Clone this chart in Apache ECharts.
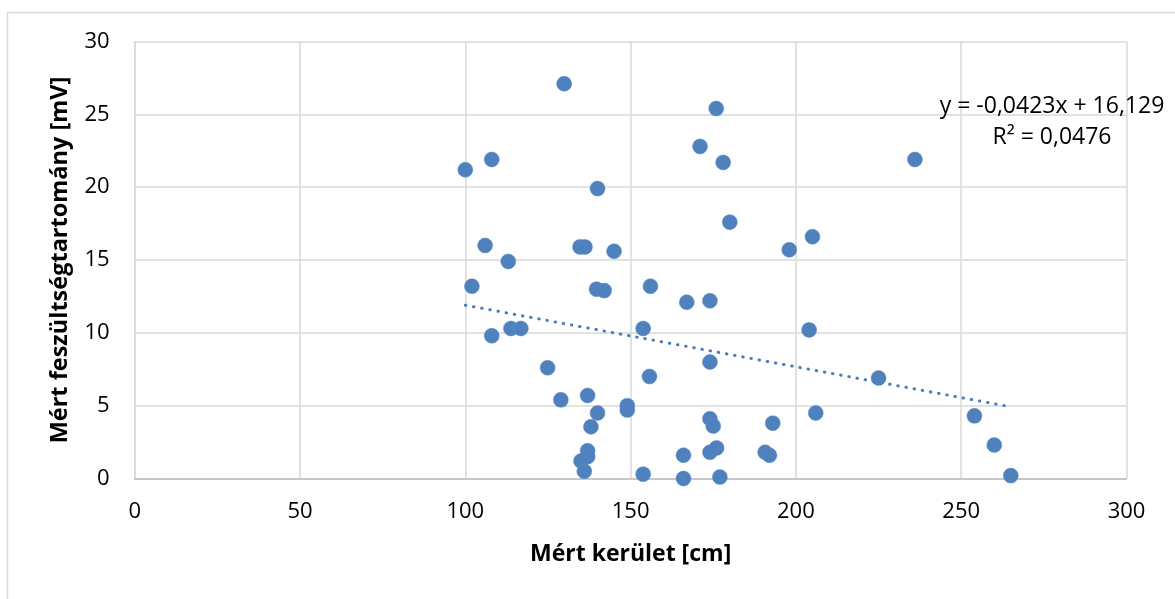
<!DOCTYPE html>
<html>
<head>
<meta charset="utf-8">
<script src="https://cdn.jsdelivr.net/npm/echarts@6/dist/echarts.min.js"></script>
<style>
html,body{margin:0;padding:0;background:#fff;}
#chart{width:1175px;height:599px;}
</style>
</head>
<body>
<div id="chart"></div>
<script>
// Measured perimeter [cm]
const perimeter = [
  129.9, 108, 100, 140, 106, 113, 134.7, 136.2, 145, 102,
  139.7, 142, 156, 108, 113.8, 116.8, 124.9, 128.9, 137, 140,
  138, 137, 137, 135, 136, 149, 149, 153.8, 153.8, 155.7,
  175.9, 171, 178, 180, 198, 205, 167, 174, 204, 174,
  174, 175, 206, 193, 166, 174, 176, 190.7, 192, 166,
  177, 236, 225, 254, 260, 265
];
// Measured voltage range [mV]
const voltage = [
  27.1, 21.9, 21.2, 19.9, 16.0, 14.9, 15.9, 15.9, 15.6, 13.2,
  13.0, 12.9, 13.2, 9.8, 10.3, 10.3, 7.6, 5.4, 5.7, 4.5,
  3.55, 1.9, 1.5, 1.2, 0.5, 5.0, 4.7, 10.3, 0.3, 7.0,
  25.4, 22.8, 21.7, 17.6, 15.7, 16.6, 12.1, 12.2, 10.2, 8.0,
  4.1, 3.6, 4.5, 3.8, 1.6, 1.8, 2.1, 1.8, 1.6, 0.0,
  0.1, 21.9, 6.9, 4.3, 2.3, 0.2
];
// Trendline as printed on the chart
const trendSlope = -0.0423;
const trendIntercept = 16.129;
const trendLabel = 'y = -0,0423x + 16,129';
const r2Label = 'R² = 0,0476';
const xTicks = [0, 300, 50];
const yTicks = [0, 30, 5];
const xTitle = 'Mért kerület [cm]';
const yTitle = 'Mért feszültségtartomány [mV]';

const points = perimeter.map((x, i) => [x, voltage[i]]);
const xMinData = Math.min(...perimeter);
const xMaxData = Math.max(...perimeter);
const trend = [xMinData, xMaxData].map(x => [x, trendSlope * x + trendIntercept]);

const FONT = 'Open Sans';
const chart = echarts.init(document.getElementById('chart'), null, {renderer: 'canvas'});
chart.setOption({
  animation: false,
  backgroundColor: '#fff',
  textStyle: {fontFamily: FONT},
  grid: {left: 134.7, right: 48.5, top: 41.5, bottom: 120.5, containLabel: false},
  xAxis: {
    type: 'value', min: xTicks[0], max: xTicks[1], interval: xTicks[2],
    name: xTitle, nameLocation: 'middle', nameGap: 64,
    nameTextStyle: {fontFamily: FONT, fontSize: 23, fontWeight: 'bold', color: '#000'},
    axisLine: {show: true, lineStyle: {color: '#bfbfbf', width: 1.5}},
    axisTick: {show: false},
    axisLabel: {fontFamily: FONT, fontSize: 22, color: '#000', margin: 22},
    splitLine: {show: true, lineStyle: {color: '#d9d9d9', width: 1.5}}
  },
  yAxis: {
    type: 'value', min: yTicks[0], max: yTicks[1], interval: yTicks[2],
    name: yTitle, nameLocation: 'middle', nameGap: 62,
    nameTextStyle: {fontFamily: FONT, fontSize: 23.5, fontWeight: 'bold', color: '#000'},
    axisLine: {show: true, lineStyle: {color: '#d9d9d9', width: 1.5}},
    axisTick: {show: false},
    axisLabel: {fontFamily: FONT, fontSize: 22, color: '#000', margin: 25},
    splitLine: {show: true, lineStyle: {color: '#d9d9d9', width: 1.5}}
  },
  series: [
    {
      type: 'line', data: trend, showSymbol: false, symbol: 'none', z: 3,
      lineStyle: {color: '#4a7ebb', width: 3, type: [0.5, 7.8], cap: 'round'}
    },
    {
      type: 'scatter', data: points, symbol: 'circle', symbolSize: 15, z: 4,
      itemStyle: {color: '#4f81bd', opacity: 1, borderColor: '#5a8ac4', borderWidth: 0.5}
    }
  ],
  graphic: [
    {type: 'rect', silent: true, z: -1, shape: {x: 7.5, y: 12.5, width: 1200, height: 620},
     style: {fill: 'none', stroke: '#d9d9d9', lineWidth: 1.5}},
    {type: 'text', silent: true, z: 10, x: 1052, y: 106,
     style: {text: trendLabel, fontFamily: FONT, fontSize: 23, fill: '#000', align: 'center', verticalAlign: 'middle'}},
    {type: 'text', silent: true, z: 10, x: 1052, y: 137,
     style: {text: r2Label, fontFamily: FONT, fontSize: 23, fill: '#000', align: 'center', verticalAlign: 'middle'}}
  ]
});
</script>
</body>
</html>
